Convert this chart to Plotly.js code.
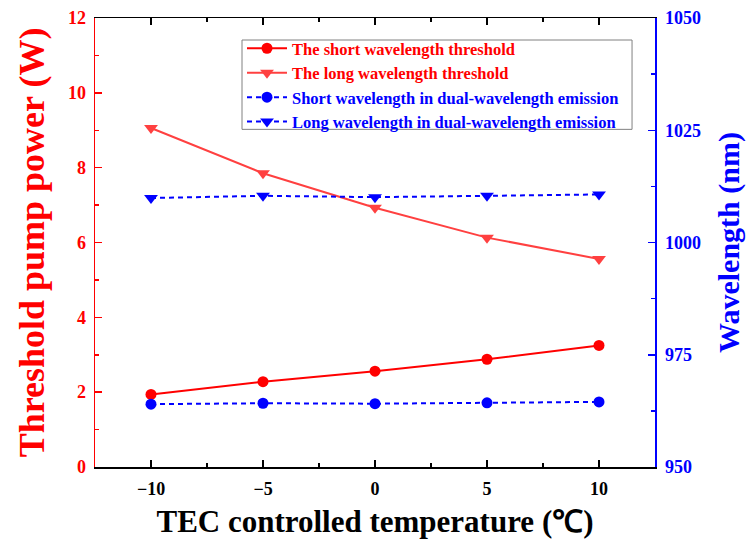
<!DOCTYPE html>
<html><head><meta charset="utf-8">
<script src="https://cdn.plot.ly/plotly-3.0.1.min.js"></script>
<style>body{margin:0;background:#fff}#c{width:750px;height:544px}</style>
</head><body><div id="c"></div>
<script>
const temps = [-10, -5, 0, 5, 10];
const shortThreshold = [1.94, 2.28, 2.56, 2.88, 3.25];
const longThreshold = [9.06, 7.85, 6.93, 6.13, 5.56];
const shortWavelength = [964.0, 964.2, 964.1, 964.3, 964.5];
const longWavelength = [1009.9, 1010.4, 1010.1, 1010.4, 1010.7];
const names = [
  'The short wavelength threshold',
  'The long wavelength threshold',
  'Short wavelength in dual-wavelength emission',
  'Long wavelength in dual-wavelength emission'
];
const font = 'Liberation Serif, Times New Roman, serif';
const traces = [
  {x: temps, y: shortThreshold, name: '<span style="color:#ff0000">' + names[0] + '</span>', mode: 'lines+markers',
   line: {color: '#ff0000', width: 2}, marker: {symbol: 'circle', size: 11, color: '#ff0000'}},
  {x: temps, y: longThreshold, name: '<span style="color:#ff0000">' + names[1] + '</span>', mode: 'lines+markers',
   line: {color: '#ff4040', width: 2}, marker: {symbol: 'triangle-down', size: 12, color: '#ff4040'}},
  {x: temps, y: shortWavelength, name: '<span style="color:#0000ff">' + names[2] + '</span>', mode: 'lines+markers', yaxis: 'y2',
   line: {color: '#0000ff', width: 2, dash: '5px,4px'}, marker: {symbol: 'circle', size: 11, color: '#0000ff'}},
  {x: temps, y: longWavelength, name: '<span style="color:#0000ff">' + names[3] + '</span>', mode: 'lines+markers', yaxis: 'y2',
   line: {color: '#0000ff', width: 2, dash: '5px,4px'}, marker: {symbol: 'triangle-down', size: 12, color: '#0000ff'}}
];
const layout = {
  width: 750, height: 544,
  margin: {l: 95, r: 95, t: 18, b: 77},
  paper_bgcolor: '#fff', plot_bgcolor: '#fff',
  font: {family: font, weight: 'bold', size: 16, color: '#000'},
  showlegend: true,
  legend: {x: 0.2625, y: 0.971, xanchor: 'left', yanchor: 'top', bgcolor: 'rgba(0,0,0,0)',
    borderwidth: 0, font: {family: font, size: 16.5, weight: 'bold'},
    tracegroupgap: 0, itemwidth: 40},
  shapes: [{type: 'rect', xref: 'paper', yref: 'paper', x0: 0.2625, x1: 0.959, y0: 0.752, y1: 0.951,
    line: {color: '#808080', width: 1}, fillcolor: '#fff', layer: 'below'}],
  xaxis: {
    range: [-12.5, 12.5], tickvals: temps, ticks: 'inside', ticklen: 7, tickwidth: 1.5,
    tickcolor: '#000', showline: true, linecolor: '#000', linewidth: 1.5, mirror: 'ticks',
    showgrid: false, zeroline: false, ticklabelstandoff: 5,
    tickfont: {family: font, size: 18, weight: 'bold', color: '#000'},
    minor: {ticks: 'inside', ticklen: 4, dtick: 2.5, tick0: 0, tickcolor: '#000', showgrid: false},
    title: {text: 'TEC controlled temperature (\u2103)', font: {family: font, size: 31, weight: 'bold', color: '#000'}, standoff: 12}
  },
  yaxis: {
    range: [0, 12], dtick: 2, ticks: 'inside', ticklen: 7, tickwidth: 1.5, tickcolor: '#ff0000',
    showline: true, linecolor: '#ff0000', linewidth: 1.5, showgrid: false, zeroline: false, ticklabelstandoff: 4,
    tickfont: {family: font, size: 18, weight: 'bold', color: '#ff0000'},
    minor: {ticks: 'inside', ticklen: 4, dtick: 1, tickcolor: '#ff0000', showgrid: false},
    title: {text: 'Threshold pump power (W)', font: {family: font, size: 36, weight: 'bold', color: '#ff0000'}, standoff: 12}
  },
  yaxis2: {
    range: [950, 1050], dtick: 25, overlaying: 'y', side: 'right', ticks: 'inside', ticklen: 7, tickwidth: 1.5,
    tickcolor: '#0000ff', showline: true, linecolor: '#0000ff', linewidth: 1.5, showgrid: false, zeroline: false,
    ticklabelstandoff: 5,
    tickfont: {family: font, size: 18, weight: 'bold', color: '#0000ff'},
    minor: {ticks: 'inside', ticklen: 4, dtick: 12.5, tick0: 950, tickcolor: '#0000ff', showgrid: false},
    title: {text: 'Wavelength (nm)', font: {family: font, size: 30, weight: 'bold', color: '#0000ff'}, standoff: 18}
  }
};
Plotly.newPlot('c', traces, layout, {displayModeBar: false, staticPlot: true});
</script></body></html>
